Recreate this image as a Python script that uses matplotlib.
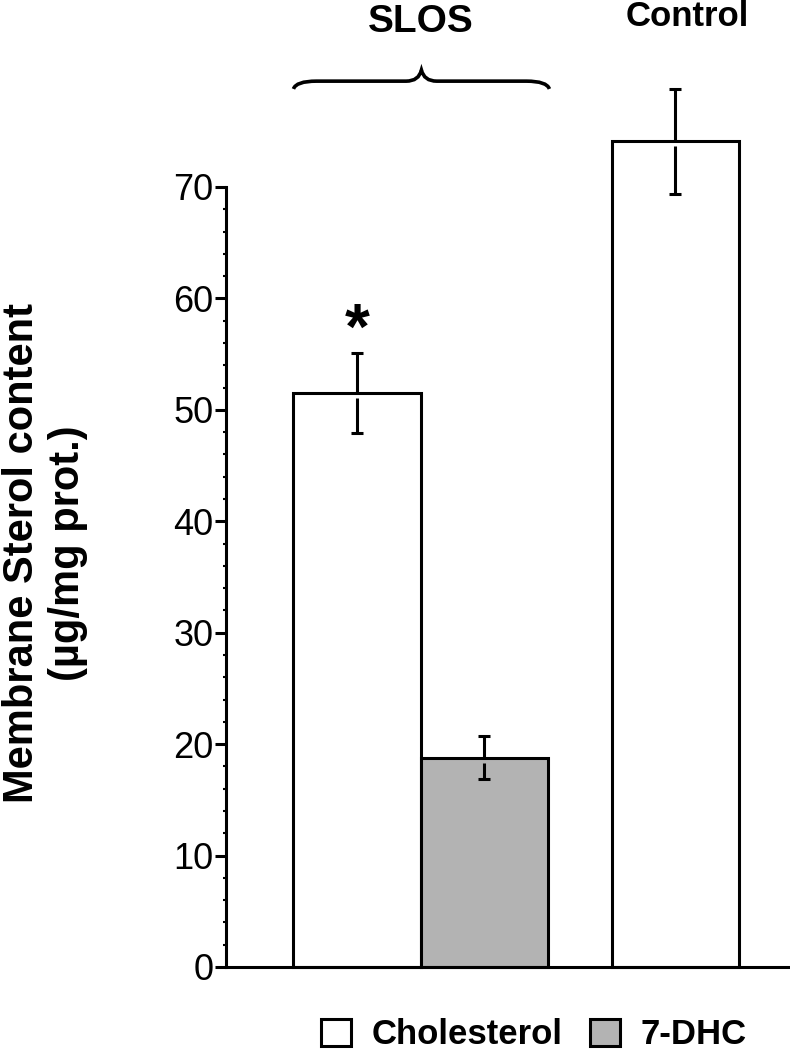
import numpy as np
import matplotlib.pyplot as plt
from matplotlib.path import Path
from matplotlib.patches import PathPatch

plt.rcParams['font.family'] = ['Liberation Sans', 'DejaVu Sans']

# data
chol_x = [1.0, 3.5]
chol_val = [51.5, 74.1]
chol_err = [3.6, 4.7]
dhc_x = [2.0]
dhc_val = [18.8]
dhc_err = [1.9]
yticks = [0, 10, 20, 30, 40, 50, 60, 70]

fig = plt.figure(figsize=(7.9, 10.5), dpi=100)
ax = fig.add_axes([226/790, 1-967/1050, 1-226/790, (967-187)/1050])

lw = 2.2
ax.bar(chol_x, chol_val, width=1.0, color='white', edgecolor='black', linewidth=lw,
       label='Cholesterol', clip_on=False, zorder=2)
ax.bar(dhc_x, dhc_val, width=1.0, color='#b3b3b3', edgecolor='black', linewidth=lw,
       label='7-DHC', clip_on=False, zorder=2)

# error bars (lower half drawn with a small gap under the bar top)
gap = 0.45
for xs, vals, errs in [(chol_x, chol_val, chol_err), (dhc_x, dhc_val, dhc_err)]:
    for x, v, e in zip(xs, vals, errs):
        ax.vlines(x, v, v + e, color='black', lw=lw, clip_on=False, zorder=3)
        ax.vlines(x, v - e, v - gap, color='black', lw=lw, clip_on=False, zorder=3)
        ax.plot([x, x], [v - e, v + e], ls='none', marker='_', ms=8, mew=lw,
                color='black', clip_on=False, zorder=3)

ax.text(1.0, 57.0, '*', ha='center', va='center', fontsize=46, fontweight='bold')

ax.set_xlim(-0.03, 4.4)
ax.set_ylim(0, 70)
ax.set_yticks(yticks)
ax.set_yticks(np.arange(0, 70, 2), minor=True)
ax.set_xticks([])
ax.tick_params(axis='y', which='major', length=8, width=lw, labelsize=26, pad=1)
ax.tick_params(axis='y', which='minor', length=2.5, width=1.5)
for s in ['top', 'right']:
    ax.spines[s].set_visible(False)
ax.spines['left'].set_linewidth(lw)
ax.spines['bottom'].set_linewidth(lw)

# brace over the SLOS group
x0, x1, xm = 0.5, 2.51, 1.505
yb, yt, ye = 79.5, 80.5, 78.8
verts = [(x0, ye), (x0 + 0.02, yb), (x0 + 0.18, yb), (xm - 0.12, yb),
         (xm - 0.02, yb), (xm, yt), (xm + 0.02, yb), (xm + 0.12, yb),
         (x1 - 0.18, yb), (x1 - 0.02, yb), (x1, ye)]
codes = [Path.MOVETO, Path.CURVE3, Path.CURVE3, Path.LINETO,
         Path.CURVE3, Path.CURVE3, Path.CURVE3, Path.CURVE3,
         Path.LINETO, Path.CURVE3, Path.CURVE3]
ax.add_patch(PathPatch(Path(verts, codes), fill=False, lw=2.6, clip_on=False))

ax.text(1.5, 84.8, 'SLOS', ha='center', va='center', fontsize=28, fontweight='bold')
ax.text(3.59, 85.3, 'Control', ha='center', va='center', fontsize=25, fontweight='bold')

fig.text(45/790, 1-553/1050, 'Membrane Sterol content\n(\u00b5g/mg prot.)', rotation=90,
         ha='center', va='center', multialignment='center', fontsize=30, fontweight='bold')

fig.legend(loc='center', bbox_to_anchor=(534/790, 1-1035/1050), ncol=2, frameon=False,
           prop={'size': 25, 'weight': 'bold'}, handlelength=0.85, handleheight=0.8,
           handletextpad=0.6, columnspacing=0.8)

fig.savefig('out.png', dpi=100)
